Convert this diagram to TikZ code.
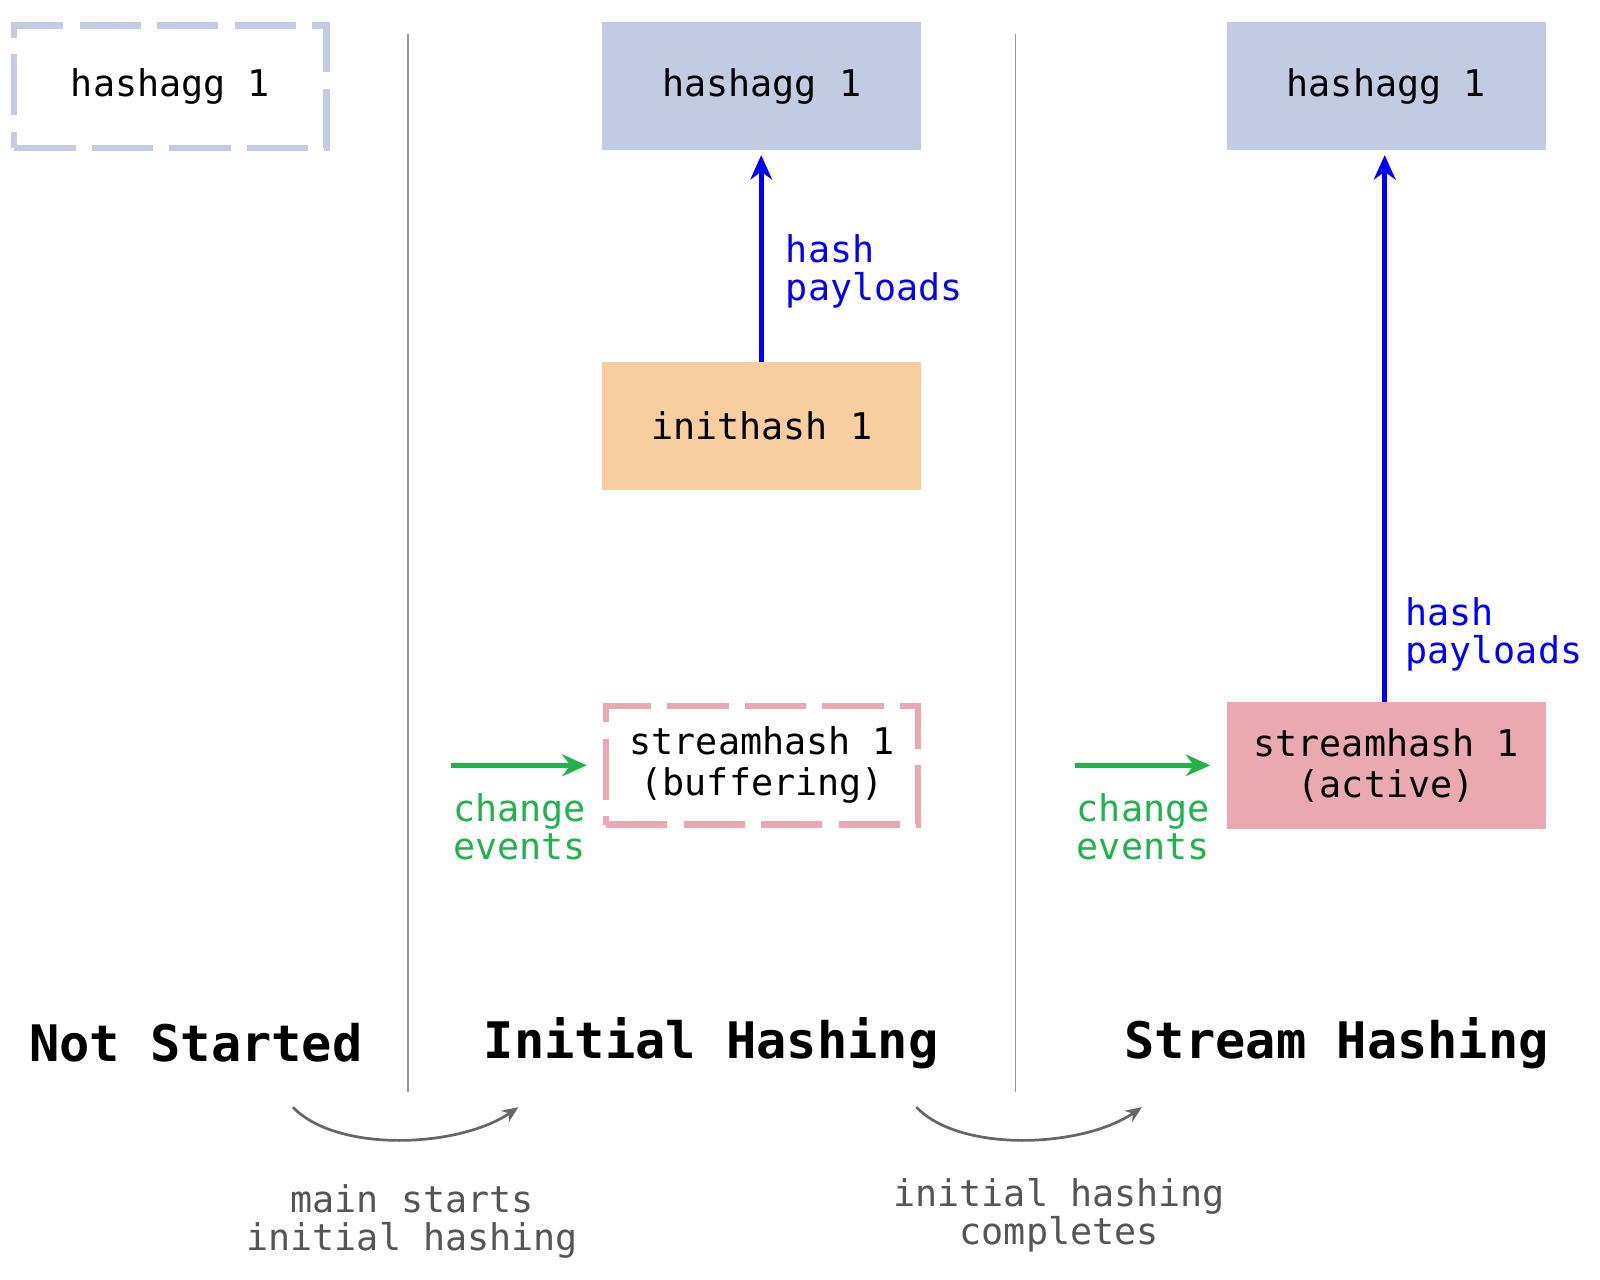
\documentclass[tikz,border=0pt]{standalone}
\usepackage{fontspec}
\setmonofont{DejaVu Sans Mono}
\usetikzlibrary{arrows.meta}
\definecolor{cblue}{HTML}{C3CBE3}
\definecolor{corange}{HTML}{F8CDA0}
\definecolor{cpink}{HTML}{EAA8B0}
\definecolor{cgreen}{HTML}{22B24C}
\definecolor{cgray}{HTML}{555555}
\tikzset{
  box/.style={minimum width=313*0.75pt, minimum height=125*0.75pt, inner sep=0pt, font=\ttfamily\fontsize{27}{30}\selectfont, align=center},
  dbox/.style={box, draw, line width=4.5pt, dash pattern=on 45pt off 12pt},
  lbl/.style={font=\ttfamily\fontsize{27}{28}\selectfont, align=left, anchor=north west, inner sep=0pt},
  title/.style={font=\ttfamily\bfseries\fontsize{37}{40}\selectfont},
  blue arr/.style={draw=blue, line width=4pt, -{Stealth[length=18pt,width=16pt]}},
  green arr/.style={draw=cgreen, line width=4pt, -{Stealth[length=18pt,width=16pt]}},
  gray arr/.style={draw=black!60, line width=2pt, -{Stealth[length=12pt,width=10pt]}},
  glbl/.style={font=\ttfamily\fontsize{27}{28}\selectfont, align=center, text=cgray}
}
\begin{document}
\begin{tikzpicture}[x=0.75pt,y=-0.75pt]
\useasboundingbox (0,0) rectangle (1568,1254);
\node[dbox, draw=cblue, minimum width=306*0.75pt, minimum height=120*0.75pt] (ha0) at (167,85) {hashagg 1};
\draw[black!40, line width=1pt] (400,33) -- (400,1070);
\draw[black!40, line width=1pt] (995,33) -- (995,1070);
% middle
\node[box, fill=cblue] (ha1) at (746.5,84.5) {hashagg 1};
\node[box, fill=corange] (ih1) at (746.5,417.5) {inithash 1};
\node[dbox, draw=cpink, minimum width=306*0.75pt, minimum height=116*0.75pt] (sh1) at (747,750) {streamhash 1\\(buffering)};
\coordinate (ihtop) at (746,355);
\coordinate (hatop) at (746,152);
\draw[blue arr] (ihtop) -- (hatop);
\node[lbl, text=blue] (hp1) at (770,230) {hash\\payloads};
\coordinate (g1s) at (442,750);
\coordinate (g1e) at (575,750);
\draw[green arr] (g1s) -- (g1e);
\node[lbl, text=cgreen] (ce1) at (444,777) {change\\events};
% right
\node[box, fill=cblue] (ha2) at (1358.5,84.5) {hashagg 1};
\node[box, fill=cpink] (sh2) at (1358.5,750) {streamhash 1\\(active)};
\coordinate (sh2top) at (1357,688);
\coordinate (ha2bot) at (1357,152);
\draw[blue arr] (sh2top) -- (ha2bot);
\node[lbl, text=blue] (hp2) at (1377,585) {hash\\payloads};
\coordinate (g2s) at (1053,750);
\coordinate (g2e) at (1186,750);
\draw[green arr] (g2s) -- (g2e);
\node[lbl, text=cgreen] (ce2) at (1055,777) {change\\events};
% titles
\node[title] (t1) at (192,1022) {Not Started};
\node[title] (t2) at (697,1022) {Initial Hashing};
\node[title] (t3) at (1310,1022) {Stream Hashing};
% transitions
\coordinate (a1s) at (287,1085);
\coordinate (a1e) at (508,1085);
\draw[gray arr] (a1s) .. controls (330,1130) and (450,1125) .. (a1e);
\node[glbl] (l1) at (404,1197) {main starts\\initial hashing};
\coordinate (a2s) at (898,1085);
\coordinate (a2e) at (1119,1085);
\draw[gray arr] (a2s) .. controls (941,1130) and (1061,1125) .. (a2e);
\node[glbl] (l2) at (1038,1191) {initial hashing\\completes};
\end{tikzpicture}
\end{document}
